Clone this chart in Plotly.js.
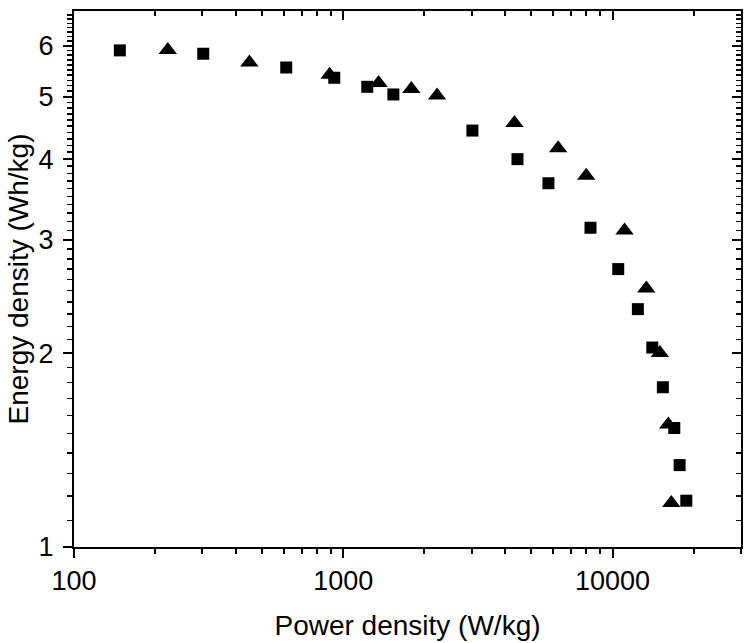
<!DOCTYPE html>
<html>
<head>
<meta charset="utf-8">
<script src="https://cdn.plot.ly/plotly-3.0.1.min.js"></script>
<style>html,body{margin:0;padding:0;background:#fff;}#chart{width:753px;height:643px;}</style>
</head>
<body>
<div id="chart"></div>
<script>
// Series A (squares)
const squarePower = [148, 302, 614, 926, 1228, 1535, 3017, 4436, 5781, 8283, 10500, 12420, 14050, 15380, 16960, 17750, 18790];
const squareEnergy = [5.90, 5.83, 5.55, 5.35, 5.18, 5.04, 4.43, 4.00, 3.67, 3.13, 2.70, 2.34, 2.04, 1.77, 1.53, 1.34, 1.18];
// Series B (triangles)
const trianglePower = [223, 448, 890, 1353, 1790, 2230, 4322, 6281, 7985, 11080, 13350, 14990, 16110, 16530];
const triangleEnergy = [5.91, 5.65, 5.41, 5.25, 5.14, 5.02, 4.55, 4.16, 3.77, 3.10, 2.52, 2.00, 1.55, 1.17];

// Tick labels
const xTickVals = [100, 1000, 10000];
const xTickText = ['100', '1000', '10000'];
const yTickVals = [1, 2, 3, 4, 5, 6];
const yTickText = ['1', '2', '3', '4', '5', '6'];
const xMinorVals = [200,300,400,500,600,700,800,900,2000,3000,4000,5000,6000,7000,8000,9000,20000,30000];
const yMinorVals = [];
for (let v = 11; v <= 68; v++) { if (v % 10 !== 0) yMinorVals.push(v / 10); }

const fam = 'Liberation Sans, Arial, sans-serif';
const xRange = [2, Math.log10(30000)];
const yRange = [0, 0.832];

const traces = [
  {x: squarePower, y: squareEnergy, type: 'scatter', mode: 'markers',
   marker: {symbol: 'square', size: 12, color: '#000'}, showlegend: false},
  {x: trianglePower, y: triangleEnergy, type: 'scatter', mode: 'markers',
   marker: {symbol: 'triangle-up', size: 16, color: '#000'}, showlegend: false},
  {x: [], y: [], xaxis: 'x2', yaxis: 'y2', type: 'scatter', mode: 'markers', showlegend: false, hoverinfo: 'skip'}
];

const layout = {
  width: 753, height: 643,
  margin: {l: 74, r: 12, t: 11, b: 96},
  paper_bgcolor: '#fff', plot_bgcolor: '#fff',
  font: {family: fam, color: '#000'},
  showlegend: false,
  xaxis: {
    type: 'log', range: xRange,
    tickmode: 'array', tickvals: xTickVals, ticktext: xTickText,
    ticks: 'outside', ticklen: 9, tickwidth: 2, tickcolor: '#000',
    minor: {tickmode: 'array', tickvals: xMinorVals, ticks: 'outside', ticklen: 5, tickwidth: 2, tickcolor: '#000', showgrid: false},
    showline: true, linewidth: 2, linecolor: '#000',
    showgrid: false, zeroline: false,
    tickfont: {family: fam, size: 27, color: '#000'},
    title: {text: 'Power density (W/kg)', font: {family: fam, size: 28, color: '#000'}, standoff: 20}
  },
  yaxis: {
    type: 'log', range: yRange,
    tickmode: 'array', tickvals: yTickVals, ticktext: yTickText,
    ticks: 'outside', ticklen: 9, tickwidth: 2, tickcolor: '#000',
    ticklabelstandoff: 4,
    minor: {tickmode: 'array', tickvals: yMinorVals, ticks: 'outside', ticklen: 5, tickwidth: 1.5, tickcolor: '#000', showgrid: false},
    showline: true, linewidth: 2, linecolor: '#000',
    showgrid: false, zeroline: false,
    tickfont: {family: fam, size: 27, color: '#000'},
    title: {text: 'Energy density (Wh/kg)', font: {family: fam, size: 28, color: '#000'}, standoff: 2}
  },
  xaxis2: {
    type: 'log', range: xRange, overlaying: 'x', side: 'top', anchor: 'y2',
    tickmode: 'array', tickvals: xTickVals, showticklabels: false,
    ticks: 'inside', ticklen: 9, tickwidth: 2, tickcolor: '#000',
    minor: {tickmode: 'array', tickvals: xMinorVals, ticks: 'inside', ticklen: 5, tickwidth: 2, tickcolor: '#000', showgrid: false},
    showline: true, linewidth: 2, linecolor: '#000', showgrid: false, zeroline: false
  },
  yaxis2: {
    type: 'log', range: yRange, overlaying: 'y', side: 'right', anchor: 'x2',
    tickmode: 'array', tickvals: yTickVals, showticklabels: false,
    ticks: 'inside', ticklen: 9, tickwidth: 2, tickcolor: '#000',
    minor: {tickmode: 'array', tickvals: yMinorVals, ticks: 'inside', ticklen: 5, tickwidth: 1.5, tickcolor: '#000', showgrid: false},
    showline: true, linewidth: 2, linecolor: '#000', showgrid: false, zeroline: false
  }
};

Plotly.newPlot('chart', traces, layout, {staticPlot: true, displayModeBar: false});
</script>
</body>
</html>
